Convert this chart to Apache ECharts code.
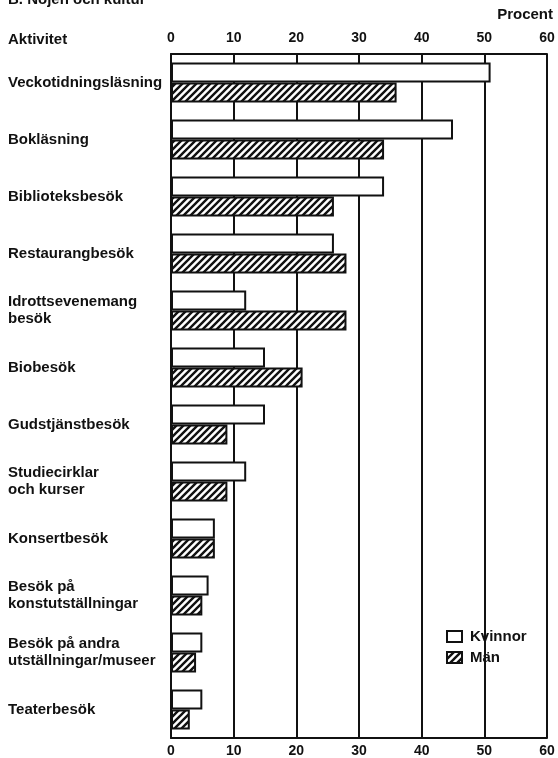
<!DOCTYPE html>
<html>
<head>
<meta charset="utf-8">
<script src="https://cdn.jsdelivr.net/npm/echarts@6/dist/echarts.min.js"></script>
<style>
  html, body { margin: 0; padding: 0; background: #fff; }
  #chart { width: 558px; height: 758px; }
</style>
</head>
<body>
<div id="chart"></div>
<script>
const categories = [
  'Veckotidningsläsning', 'Bokläsning', 'Biblioteksbesök', 'Restaurangbesök',
  'Idrottsevenemang\nbesök', 'Biobesök', 'Gudstjänstbesök', 'Studiecirklar\noch kurser',
  'Konsertbesök', 'Besök på\nkonstutställningar', 'Besök på andra\nutställningar/museer', 'Teaterbesök'
]
const kvinnor = [51, 45, 34, 26, 12, 15, 15, 12, 7, 6, 5, 5]
const man = [36, 34, 26, 28, 28, 21, 9, 9, 7, 5, 4, 3]
const ticks = [0, 10, 20, 30, 40, 50, 60]

const FONT = '"Liberation Sans", Arial, Helvetica, sans-serif'
const INK = '#111'

// diagonal hatch ("////") for Män
function hatch() {
  const s = 7
  const c = document.createElement('canvas')
  c.width = s; c.height = s
  const g = c.getContext('2d')
  g.fillStyle = '#fff'
  g.fillRect(0, 0, s, s)
  g.strokeStyle = INK
  g.lineWidth = 2.4
  g.beginPath()
  g.moveTo(-1, s + 1); g.lineTo(s + 1, -1)
  g.moveTo(-1, 1); g.lineTo(1, -1)
  g.moveTo(s - 1, s + 1); g.lineTo(s + 1, s - 1)
  g.stroke()
  return c
}

const chart = echarts.init(document.getElementById('chart'))

const xBase = {
  type: 'value', min: ticks[0], max: ticks[ticks.length - 1], interval: 10,
  axisTick: { show: false },
  axisLine: { show: true, lineStyle: { color: INK, width: 2 } },
  axisLabel: { color: INK, fontFamily: FONT, fontWeight: 'bold', fontSize: 14 }
}

chart.setOption({
  animation: false,
  textStyle: { fontFamily: FONT },
  grid: { left: 171, right: 11, top: 54, bottom: 20 },
  graphic: [
    { type: 'text', left: 8, top: -8, style: { text: 'B. Nöjen och kultur', font: 'bold 15px ' + FONT, fill: INK } },
    { type: 'text', right: 5, top: 7, style: { text: 'Procent', font: 'bold 15px ' + FONT, fill: INK } },
    { type: 'text', left: 8, top: 32, style: { text: 'Aktivitet', font: 'bold 15px ' + FONT, fill: INK } }
  ],
  legend: {
    orient: 'vertical', left: 441, top: 624, itemGap: 6,
    itemWidth: 15, itemHeight: 11, icon: 'rect',
    textStyle: { color: INK, fontWeight: 'bold', fontSize: 15, fontFamily: FONT, padding: [0, 0, 0, 3] },
    data: ['Kvinnor', 'Män']
  },
  xAxis: [
    { ...xBase, position: 'top', axisLabel: { ...xBase.axisLabel, margin: 9 },
      splitLine: { show: true, lineStyle: { color: INK, width: 2 } } },
    { ...xBase, position: 'bottom', axisLabel: { ...xBase.axisLabel, margin: 6 }, splitLine: { show: false } }
  ],
  yAxis: {
    type: 'category', data: categories, inverse: true,
    axisTick: { show: false },
    axisLine: { show: true, lineStyle: { color: INK, width: 2 } },
    axisLabel: {
      align: 'left', margin: 163, color: INK, fontFamily: FONT,
      fontWeight: 'bold', fontSize: 15, lineHeight: 17
    }
  },
  series: [
    {
      name: 'Kvinnor', type: 'bar', xAxisIndex: 0, data: kvinnor,
      barWidth: 20, barGap: '0%',
      itemStyle: { color: '#fff', borderColor: INK, borderWidth: 2 }
    },
    {
      name: 'Män', type: 'bar', xAxisIndex: 0, data: man,
      barWidth: 20, barGap: '0%',
      itemStyle: { color: { image: hatch(), repeat: 'repeat' }, borderColor: INK, borderWidth: 2 }
    }
  ]
})
</script>
</body>
</html>
